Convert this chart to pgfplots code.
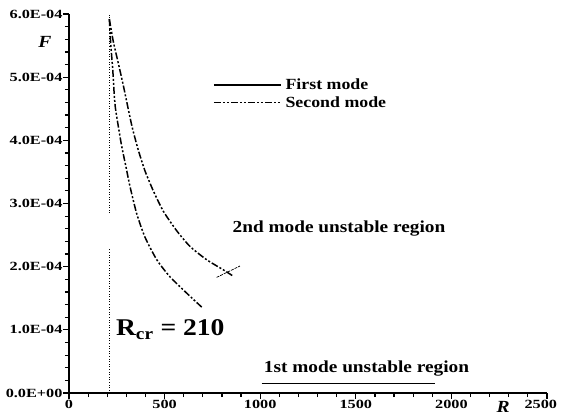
\documentclass[border=0pt]{standalone}
\usepackage{fontspec}
\setmainfont{Liberation Serif}[FakeStretch=1.15]
\newfontfamily\tickfont{Liberation Serif}[FakeStretch=1.3]
\usepackage{pgfplots}
\pgfplotsset{compat=1.18}
\pgfplotstableread{
R F
211 5.92e-4
218 5.54e-4
229 5.11e-4
235 4.80e-4
242 4.53e-4
258 4.22e-4
276 3.90e-4
298 3.58e-4
319 3.27e-4
354 2.84e-4
397 2.47e-4
459 2.11e-4
528 1.84e-4
616 1.58e-4
694 1.36e-4
}\lowercurve
\pgfplotstableread{
R F
211 5.92e-4
232 5.56e-4
258 5.22e-4
284 4.87e-4
328 4.24e-4
362 3.85e-4
397 3.52e-4
441 3.20e-4
493 2.88e-4
563 2.57e-4
633 2.32e-4
720 2.11e-4
807 1.95e-4
859 1.85e-4
}\uppercurve
\begin{document}
\begin{tikzpicture}
\path[use as bounding box] (-69pt,-25pt) rectangle (492pt,393pt);
\begin{axis}[
  at={(0pt,0pt)}, anchor=south west,
  scale only axis, width=478pt, height=379pt,
  xmin=0, xmax=2500, ymin=0, ymax=6e-4,
  axis lines=left,
  axis line style={-, line width=1.8pt},
  xtick={0,500,1000,1500,2000,2500},
  xticklabels={0,500,1000,1500,2000,\makebox[20pt][r]{2500}},
  ytick={0,1e-4,2e-4,3e-4,4e-4,5e-4,6e-4},
  yticklabels={0.0E+00,1.0E-04,2.0E-04,3.0E-04,4.0E-04,5.0E-04,6.0E-04},
  scaled y ticks=false,
  minor x tick num=4, minor y tick num=4,
  tick align=outside,
  major tick length=6pt, minor tick length=4pt,
  every tick/.style={black, line width=1.2pt},
  tick label style={font=\tickfont\bfseries\fontsize{12.5}{12.5}\selectfont},
  xticklabel style={yshift=2pt},
  yticklabel style={xshift=3pt},
  clip=false,
  legend style={draw=none, fill=none, at={(0.301,0.834)}, anchor=north west,
    font=\bfseries\fontsize{15.5}{15.5}\selectfont, inner sep=0pt,
    row sep=1pt, nodes={inner xsep=4pt}},
  legend cell align=left,
  legend image code/.code={\draw[#1] (0pt,0pt) -- (67pt,0pt);},
]
\addplot[black, line width=1.5pt] coordinates {(1008,0.153e-4) (1914,0.153e-4)};
\addlegendentry{First mode}
\addplot[black, line width=1.5pt, smooth, tension=0.4, dash pattern=on 7pt off 2pt on 2pt off 2pt on 2pt off 2pt] table[x=R,y=F] {\uppercurve};
\addlegendentry{Second mode}
\addplot[forget plot, black, line width=1.5pt, smooth, tension=0.4, dash pattern=on 7pt off 2pt on 2pt off 2pt on 2pt off 2pt] table[x=R,y=F] {\lowercurve};
\addplot[forget plot, black, line width=0.7pt, dash pattern=on 3pt off 1pt] coordinates {(772,1.83e-4) (894,2.01e-4)};
\addplot[forget plot, black, line width=0.6pt, dotted] coordinates {(210,0) (210,2.3e-4)};
\addplot[forget plot, black, line width=0.6pt, dotted] coordinates {(210,2.85e-4) (210,6e-4)};
\node[font=\bfseries\fontsize{16.8}{16.8}\selectfont] at (axis cs:1412,2.61e-4) {2nd mode unstable region};
\node[font=\bfseries\fontsize{16.8}{16.8}\selectfont] at (axis cs:1556,0.38e-4) {1st mode unstable region};
\node[anchor=west, font=\fontsize{24}{24}\selectfont\bfseries, inner sep=0pt] at (axis cs:245,1.0e-4) {R\textsubscript{cr} = 210};
\node[font=\bfseries\itshape\fontsize{17}{17}\selectfont] at (rel axis cs:0,0.927) [xshift=-24pt] {F};
\node[font=\bfseries\itshape\fontsize{17}{17}\selectfont] at (axis cs:2270,0) [yshift=-14pt] {R};
\end{axis}
\end{tikzpicture}
\end{document}
